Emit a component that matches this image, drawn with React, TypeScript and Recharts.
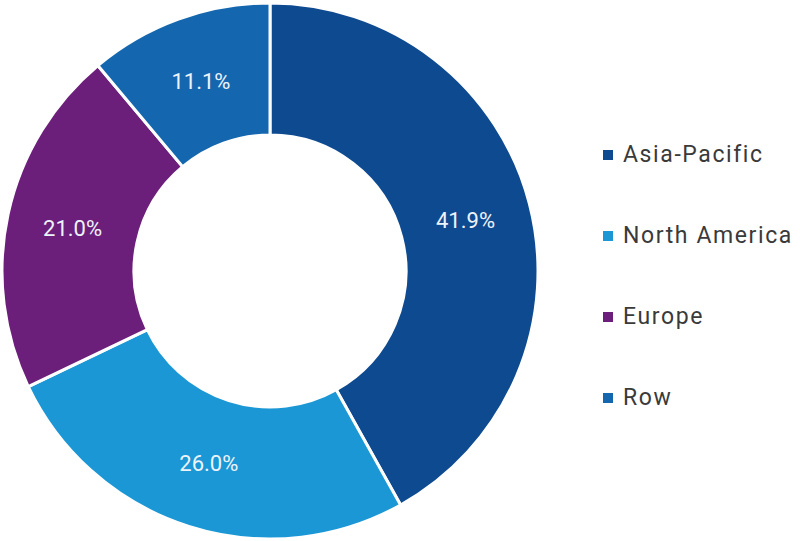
import { PieChart, Pie, Cell, Legend } from "recharts";

const regions = ["Asia-Pacific", "North America", "Europe", "Row"];
const shares = [41.9, 26.0, 21.0, 11.1];
const colors = ["#0e4a90", "#1a97d4", "#6b1f7a", "#1467ae"];

const data = regions.map((name, i) => ({ name, value: shares[i] }));

const RADIAN = Math.PI / 180;

const renderLabel = ({ cx, cy, midAngle, innerRadius, outerRadius, value }: any) => {
  const r = (innerRadius + outerRadius) / 2;
  const x = cx + r * Math.cos(-midAngle * RADIAN);
  const y = cy + r * Math.sin(-midAngle * RADIAN);
  return (
    <text
      x={x}
      y={y}
      fill="#eef3fb"
      textAnchor="middle"
      dominantBaseline="central"
      fontSize={22}
      fontFamily="Roboto, sans-serif"
    >
      {value.toFixed(1)}%
    </text>
  );
};

const CustomLegend = () => (
  <div style={{ fontFamily: "Roboto, sans-serif" }}>
    {regions.map((name, i) => (
      <div
        key={name}
        style={{ display: "flex", alignItems: "center", height: 81, fontSize: 23, color: "#3a3a3a", letterSpacing: 1.6 }}
      >
        <span style={{ width: 10, height: 10, background: colors[i], marginRight: 10, display: "inline-block" }} />
        {name}
      </div>
    ))}
  </div>
);

export default function App() {
  return (
    <div style={{ position: "absolute", left: 0, top: 0, width: 800, height: 541, background: "#fff" }}>
      <PieChart width={800} height={541} margin={{ top: 0, right: 0, bottom: 0, left: 0 }}>
        <Pie
          data={data}
          dataKey="value"
          nameKey="name"
          cx={270}
          cy={271}
          innerRadius={136}
          outerRadius={268}
          startAngle={90}
          endAngle={-270}
          stroke="#ffffff"
          strokeWidth={3}
          label={renderLabel}
          labelLine={false}
          isAnimationActive={false}
        >
          {data.map((d, i) => (
            <Cell key={d.name} fill={colors[i]} />
          ))}
        </Pie>
        <Legend
          content={<CustomLegend />}
          wrapperStyle={{ left: 603, top: 114, width: 200 }}
        />
      </PieChart>
    </div>
  );
}
